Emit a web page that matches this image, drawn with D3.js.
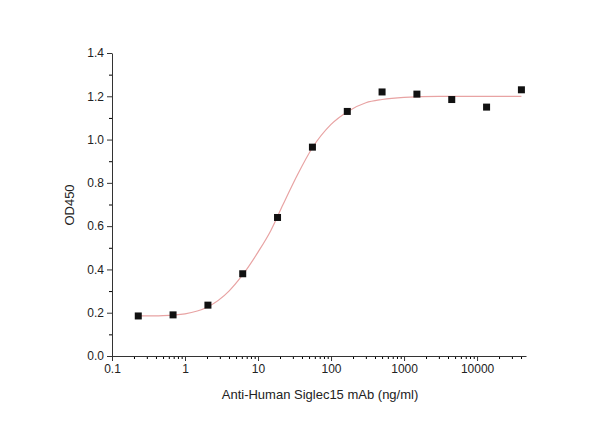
<!DOCTYPE html>
<html><head><meta charset="utf-8">
<script src="https://cdn.jsdelivr.net/npm/d3@7"></script>
<style>body{margin:0;background:#fff}text{font-family:"Liberation Sans",Arial,sans-serif}</style>
</head><body><svg id="c" width="608" height="426"></svg>
<script>
// measured points (3-fold dilution series)
var conc = [0.229, 0.686, 2.06, 6.17, 18.5, 55.6, 167, 500, 1500, 4500, 13500, 40500];
var od = [0.185, 0.19, 0.235, 0.38, 0.64, 0.965, 1.13, 1.22, 1.21, 1.185, 1.15, 1.23];
// fitted curve
var fitX = [0.229, 0.5, 1, 2, 4, 6, 10, 15, 22, 35, 55, 100, 170, 300, 500, 1000, 3000, 40500];
var fitY = [0.185, 0.187, 0.195, 0.225, 0.3, 0.37, 0.48, 0.58, 0.7, 0.84, 0.96, 1.07, 1.13, 1.17, 1.185, 1.195, 1.2, 1.2];
var xTicks = [0.1, 1, 10, 100, 1000, 10000];
var yTicks = [0, 0.2, 0.4, 0.6, 0.8, 1.0, 1.2, 1.4];

var svg = d3.select("#c");
var x = d3.scaleLog().domain([0.1, 46800]).range([112, 526]);
var y = d3.scaleLinear().domain([0, 1.4]).range([356, 53]);

// minor ticks
var minorX = [];
for (var d = 0.1; d < 46800; d *= 10) for (var k = 2; k < 10; k++) if (d * k < 46800) minorX.push(d * k);
svg.append("g").attr("transform", "translate(0,356)")
  .call(d3.axisBottom(x).tickValues(minorX).tickSize(3).tickFormat(""))
  .call(g => g.select(".domain").remove());
var minorY = d3.range(0.1, 1.4, 0.2);
svg.append("g").attr("transform", "translate(112,0)")
  .call(d3.axisLeft(y).tickValues(minorY).tickSize(3).tickFormat(""))
  .call(g => g.select(".domain").remove());

var xa = svg.append("g").attr("transform", "translate(0,356)")
  .call(d3.axisBottom(x).tickValues(xTicks).tickSize(5).tickSizeOuter(0).tickFormat(d => String(d)));
var ya = svg.append("g").attr("transform", "translate(112,0)")
  .call(d3.axisLeft(y).tickValues(yTicks).tickSize(5).tickSizeOuter(0).tickFormat(d3.format(".1f")));
[xa, ya].forEach(g => {
  g.selectAll("text").attr("font-size", 12).attr("fill", "#222");
  g.selectAll("line,path").attr("stroke", "#333");
});

svg.append("path")
  .datum(fitX.map((v, i) => [v, fitY[i]]))
  .attr("fill", "none").attr("stroke", "#e8a3a3").attr("stroke-width", 1.2)
  .attr("d", d3.line().x(d => x(d[0])).y(d => y(d[1])).curve(d3.curveMonotoneX));

svg.selectAll("rect.pt").data(conc).join("rect").attr("class", "pt")
  .attr("x", d => x(d) - 3.5).attr("y", (d, i) => y(od[i]) - 3.5)
  .attr("width", 7).attr("height", 7).attr("fill", "#111");

svg.append("text").attr("x", 320).attr("y", 399).attr("text-anchor", "middle")
  .attr("font-size", 13).attr("fill", "#222").text("Anti-Human Siglec15 mAb (ng/ml)");
svg.append("text").attr("transform", "translate(74,205) rotate(-90)").attr("text-anchor", "middle")
  .attr("font-size", 13).attr("fill", "#222").text("OD450");
</script></body></html>
